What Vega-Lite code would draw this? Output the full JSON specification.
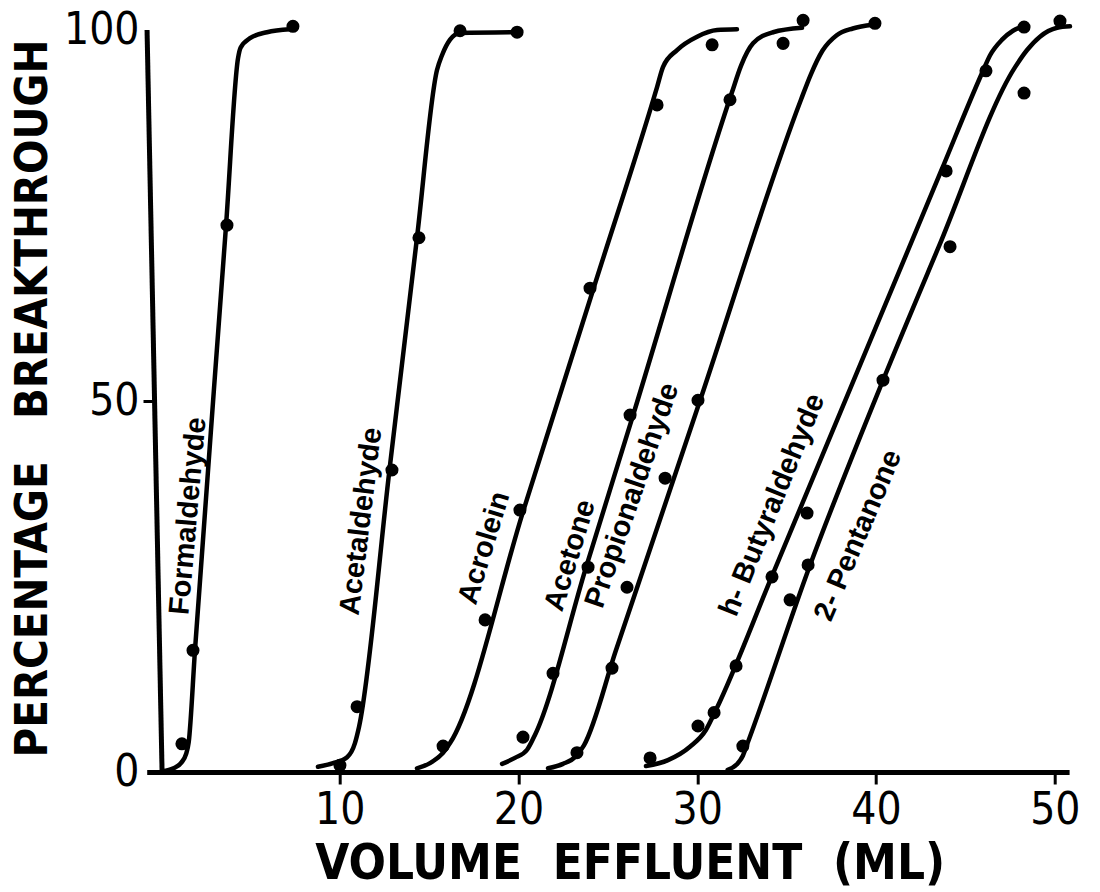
{
  "$schema": "https://vega.github.io/schema/vega-lite/v6.json",
  "width": 922.4,
  "height": 742,
  "autosize": {"type": "none"},
  "padding": {"left": 146.7, "top": 30, "right": 30.9, "bottom": 120},
  "background": "white",
  "config": {"view": {"stroke": null}, "axis": {"grid": false}},
  "datasets": {
    "curves": [
      {"compound": "Formaldehyde", "x": 0.08, "y": 0.1},
      {"compound": "Formaldehyde", "x": 0.7, "y": 0.5},
      {"compound": "Formaldehyde", "x": 1.15, "y": 1.3},
      {"compound": "Formaldehyde", "x": 1.4, "y": 2.4},
      {"compound": "Formaldehyde", "x": 1.55, "y": 4.0},
      {"compound": "Formaldehyde", "x": 1.9, "y": 16.4},
      {"compound": "Formaldehyde", "x": 3.64, "y": 73.7},
      {"compound": "Formaldehyde", "x": 4.31, "y": 96.2},
      {"compound": "Formaldehyde", "x": 4.45, "y": 97.6},
      {"compound": "Formaldehyde", "x": 4.98, "y": 98.9},
      {"compound": "Formaldehyde", "x": 5.93, "y": 99.7},
      {"compound": "Formaldehyde", "x": 7.22, "y": 100.1},

      {"compound": "Acetaldehyde", "x": 8.78, "y": 0.7},
      {"compound": "Acetaldehyde", "x": 9.62, "y": 1.2},
      {"compound": "Acetaldehyde", "x": 10.41, "y": 2.0},
      {"compound": "Acetaldehyde", "x": 10.85, "y": 3.9},
      {"compound": "Acetaldehyde", "x": 11.08, "y": 6.1},
      {"compound": "Acetaldehyde", "x": 12.78, "y": 40.7},
      {"compound": "Acetaldehyde", "x": 14.32, "y": 72.0},
      {"compound": "Acetaldehyde", "x": 15.44, "y": 94.6},
      {"compound": "Acetaldehyde", "x": 15.72, "y": 96.6},
      {"compound": "Acetaldehyde", "x": 16.17, "y": 98.7},
      {"compound": "Acetaldehyde", "x": 16.73, "y": 99.6},
      {"compound": "Acetaldehyde", "x": 19.92, "y": 99.7},

      {"compound": "Acrolein", "x": 14.32, "y": 0.5},
      {"compound": "Acrolein", "x": 15.05, "y": 1.2},
      {"compound": "Acrolein", "x": 15.78, "y": 2.6},
      {"compound": "Acrolein", "x": 16.17, "y": 3.9},
      {"compound": "Acrolein", "x": 20.28, "y": 35.3},
      {"compound": "Acrolein", "x": 24.2, "y": 65.2},
      {"compound": "Acrolein", "x": 27.75, "y": 92.3},
      {"compound": "Acrolein", "x": 28.08, "y": 95.0},
      {"compound": "Acrolein", "x": 28.87, "y": 97.3},
      {"compound": "Acrolein", "x": 29.99, "y": 99.1},
      {"compound": "Acrolein", "x": 31.11, "y": 100.0},
      {"compound": "Acrolein", "x": 32.22, "y": 100.1},

      {"compound": "Acetone", "x": 19.08, "y": 1.1},
      {"compound": "Acetone", "x": 19.8, "y": 1.9},
      {"compound": "Acetone", "x": 20.48, "y": 3.0},
      {"compound": "Acetone", "x": 20.92, "y": 5.0},
      {"compound": "Acetone", "x": 23.78, "y": 27.6},
      {"compound": "Acetone", "x": 26.41, "y": 48.1},
      {"compound": "Acetone", "x": 31.94, "y": 91.6},
      {"compound": "Acetone", "x": 32.45, "y": 95.2},
      {"compound": "Acetone", "x": 33.12, "y": 98.2},
      {"compound": "Acetone", "x": 34.24, "y": 99.7},
      {"compound": "Acetone", "x": 35.86, "y": 100.3},

      {"compound": "Propionaldehyde", "x": 21.65, "y": 0.5},
      {"compound": "Propionaldehyde", "x": 22.49, "y": 1.1},
      {"compound": "Propionaldehyde", "x": 23.16, "y": 2.0},
      {"compound": "Propionaldehyde", "x": 23.66, "y": 3.6},
      {"compound": "Propionaldehyde", "x": 25.45, "y": 16.4},
      {"compound": "Propionaldehyde", "x": 30.16, "y": 50.1},
      {"compound": "Propionaldehyde", "x": 35.8, "y": 90.6},
      {"compound": "Propionaldehyde", "x": 36.35, "y": 94.0},
      {"compound": "Propionaldehyde", "x": 37.0, "y": 97.2},
      {"compound": "Propionaldehyde", "x": 37.8, "y": 99.3},
      {"compound": "Propionaldehyde", "x": 38.7, "y": 100.2},
      {"compound": "Propionaldehyde", "x": 39.83, "y": 100.7},

      {"compound": "n-Butyraldehyde", "x": 27.13, "y": 0.8},
      {"compound": "n-Butyraldehyde", "x": 28.36, "y": 1.6},
      {"compound": "n-Butyraldehyde", "x": 29.59, "y": 3.4},
      {"compound": "n-Butyraldehyde", "x": 30.49, "y": 5.7},
      {"compound": "n-Butyraldehyde", "x": 31.05, "y": 8.4},
      {"compound": "n-Butyraldehyde", "x": 34.16, "y": 26.3},
      {"compound": "n-Butyraldehyde", "x": 43.64, "y": 81.0},
      {"compound": "n-Butyraldehyde", "x": 45.93, "y": 94.2},
      {"compound": "n-Butyraldehyde", "x": 46.38, "y": 96.6},
      {"compound": "n-Butyraldehyde", "x": 47.05, "y": 98.7},
      {"compound": "n-Butyraldehyde", "x": 47.66, "y": 99.9},
      {"compound": "n-Butyraldehyde", "x": 48.22, "y": 100.5},

      {"compound": "2-Pentanone", "x": 31.7, "y": 0.3},
      {"compound": "2-Pentanone", "x": 32.2, "y": 1.0},
      {"compound": "2-Pentanone", "x": 32.55, "y": 2.2},
      {"compound": "2-Pentanone", "x": 32.8, "y": 3.8},
      {"compound": "2-Pentanone", "x": 36.25, "y": 27.5},
      {"compound": "2-Pentanone", "x": 40.39, "y": 52.8},
      {"compound": "2-Pentanone", "x": 43.51, "y": 70.8},
      {"compound": "2-Pentanone", "x": 47.78, "y": 95.0},
      {"compound": "2-Pentanone", "x": 48.45, "y": 97.3},
      {"compound": "2-Pentanone", "x": 49.17, "y": 99.1},
      {"compound": "2-Pentanone", "x": 50.13, "y": 100.3},
      {"compound": "2-Pentanone", "x": 50.85, "y": 100.5}
    ],
    "points": [
      {"compound": "Formaldehyde", "x": 1.17, "y": 3.8},
      {"compound": "Formaldehyde", "x": 1.79, "y": 16.4},
      {"compound": "Formaldehyde", "x": 3.69, "y": 73.7},
      {"compound": "Formaldehyde", "x": 7.38, "y": 100.5},
      {"compound": "Acetaldehyde", "x": 10.01, "y": 0.9},
      {"compound": "Acetaldehyde", "x": 10.97, "y": 8.8},
      {"compound": "Acetaldehyde", "x": 12.92, "y": 40.7},
      {"compound": "Acetaldehyde", "x": 14.43, "y": 72.0},
      {"compound": "Acetaldehyde", "x": 16.73, "y": 99.9},
      {"compound": "Acetaldehyde", "x": 19.92, "y": 99.7},
      {"compound": "Acrolein", "x": 15.78, "y": 3.5},
      {"compound": "Acrolein", "x": 18.13, "y": 20.5},
      {"compound": "Acrolein", "x": 20.08, "y": 35.3},
      {"compound": "Acrolein", "x": 24.0, "y": 65.2},
      {"compound": "Acrolein", "x": 27.75, "y": 89.9},
      {"compound": "Acrolein", "x": 30.83, "y": 98.0},
      {"compound": "Acetone", "x": 20.25, "y": 4.7},
      {"compound": "Acetone", "x": 21.93, "y": 13.3},
      {"compound": "Acetone", "x": 23.89, "y": 27.6},
      {"compound": "Acetone", "x": 26.24, "y": 48.1},
      {"compound": "Acetone", "x": 31.83, "y": 90.6},
      {"compound": "Acetone", "x": 34.8, "y": 98.2},
      {"compound": "Acetone", "x": 35.92, "y": 101.3},
      {"compound": "Propionaldehyde", "x": 23.27, "y": 2.6},
      {"compound": "Propionaldehyde", "x": 25.23, "y": 14.0},
      {"compound": "Propionaldehyde", "x": 26.07, "y": 24.9},
      {"compound": "Propionaldehyde", "x": 28.2, "y": 39.6},
      {"compound": "Propionaldehyde", "x": 30.04, "y": 50.1},
      {"compound": "Propionaldehyde", "x": 39.94, "y": 100.9},
      {"compound": "n-Butyraldehyde", "x": 27.36, "y": 1.9},
      {"compound": "n-Butyraldehyde", "x": 30.04, "y": 6.2},
      {"compound": "n-Butyraldehyde", "x": 30.94, "y": 8.0},
      {"compound": "n-Butyraldehyde", "x": 32.17, "y": 14.3},
      {"compound": "n-Butyraldehyde", "x": 34.18, "y": 26.3},
      {"compound": "n-Butyraldehyde", "x": 36.14, "y": 34.9},
      {"compound": "n-Butyraldehyde", "x": 43.92, "y": 81.0},
      {"compound": "n-Butyraldehyde", "x": 46.15, "y": 94.5},
      {"compound": "n-Butyraldehyde", "x": 48.28, "y": 100.4},
      {"compound": "2-Pentanone", "x": 32.55, "y": 3.5},
      {"compound": "2-Pentanone", "x": 35.19, "y": 23.2},
      {"compound": "2-Pentanone", "x": 36.2, "y": 27.9},
      {"compound": "2-Pentanone", "x": 40.39, "y": 52.8},
      {"compound": "2-Pentanone", "x": 44.14, "y": 70.8},
      {"compound": "2-Pentanone", "x": 48.28, "y": 91.5},
      {"compound": "2-Pentanone", "x": 50.29, "y": 101.2}
    ]
  },
  "encoding": {
    "x": {
      "field": "x",
      "type": "quantitative",
      "scale": {"domain": [-0.8, 50.8], "nice": false, "zero": false},
      "axis": {
        "title": "VOLUME\u00a0\u00a0EFFLUENT\u00a0\u00a0(ML)",
        "values": [10, 20, 30, 40, 50],
        "domainColor": "black",
        "domainWidth": 5,
        "tickColor": "black",
        "tickWidth": 3,
        "tickSize": 12,
        "labelPadding": 4,
        "labelFlush": false,
        "labelBound": false,
        "labelOverlap": false,
        "labelFont": "Liberation Sans Narrow, DejaVu Sans Condensed, Liberation Sans, sans-serif",
        "labelFontSize": 44,
        "labelColor": "black",
        "titleFont": "Liberation Sans Narrow, DejaVu Sans Condensed, Liberation Sans, sans-serif",
        "titleFontSize": 49,
        "titleFontWeight": "bold",
        "titleColor": "black",
        "titleX": 483,
        "titleY": 106,
        "titleAlign": "center",
        "titleBaseline": "alphabetic"
      }
    },
    "y": {
      "field": "y",
      "type": "quantitative",
      "scale": {"domain": [0, 100], "nice": false, "zero": false},
      "axis": {
        "title": "PERCENTAGE\u00a0\u00a0\u00a0BREAKTHROUGH",
        "values": [0, 50, 100],
        "domain": false,
        "offset": -6.3,
        "tickColor": "black",
        "tickWidth": 3,
        "tickSize": 10,
        "tickOpacity": {"condition": {"test": "datum.value === 50", "value": 1}, "value": 0},
        "labelPadding": 4,
        "labelOverlap": false,
        "labelBound": false,
        "labelFlush": false,
        "labelFont": "Liberation Sans Narrow, DejaVu Sans Condensed, Liberation Sans, sans-serif",
        "labelFontSize": 44,
        "labelColor": "black",
        "titleFont": "Liberation Sans Narrow, DejaVu Sans Condensed, Liberation Sans, sans-serif",
        "titleFontSize": 45,
        "titleFontWeight": "bold",
        "titleColor": "black",
        "titleAngle": -90,
        "titleX": -107,
        "titleY": 368,
        "titleAlign": "center",
        "titleBaseline": "alphabetic"
      }
    }
  },
  "layer": [
    {
      "data": {"values": [{"x": -0.78, "y": 100, "x2": 0.06, "y2": 0}]},
      "mark": {"type": "rule", "color": "black", "strokeWidth": 5},
      "encoding": {"x2": {"field": "x2"}, "y2": {"field": "y2"}}
    },
    {
      "data": {"name": "curves"},
      "mark": {"type": "line", "interpolate": "monotone", "color": "black", "strokeWidth": 4.5, "strokeCap": "round"},
      "encoding": {"detail": {"field": "compound"}}
    },
    {
      "data": {"name": "points"},
      "mark": {"type": "circle", "color": "black", "opacity": 1, "size": 170}
    },
    {
      "data": {"values": [{"name": "Formaldehyde", "x": 1.51, "y": 34.5}]},
      "mark": {"type": "text", "angle": -85, "font": "Liberation Sans", "fontWeight": "bold", "fontSize": 29, "align": "center", "baseline": "middle", "color": "black"},
      "encoding": {"text": {"field": "name"}}
    },
    {
      "data": {"values": [{"name": "Acetaldehyde", "x": 11.19, "y": 33.8}]},
      "mark": {"type": "text", "angle": -83, "font": "Liberation Sans", "fontWeight": "bold", "fontSize": 29, "align": "center", "baseline": "middle", "color": "black"},
      "encoding": {"text": {"field": "name"}}
    },
    {
      "data": {"values": [{"name": "Acrolein", "x": 18.07, "y": 30.2}]},
      "mark": {"type": "text", "angle": -73, "font": "Liberation Sans", "fontWeight": "bold", "fontSize": 29, "align": "center", "baseline": "middle", "color": "black"},
      "encoding": {"text": {"field": "name"}}
    },
    {
      "data": {"values": [{"name": "Acetone", "x": 22.88, "y": 29.2}]},
      "mark": {"type": "text", "angle": -73, "font": "Liberation Sans", "fontWeight": "bold", "fontSize": 29, "align": "center", "baseline": "middle", "color": "black"},
      "encoding": {"text": {"field": "name"}}
    },
    {
      "data": {"values": [{"name": "Propionaldehyde", "x": 26.35, "y": 37.3}]},
      "mark": {"type": "text", "angle": -71, "font": "Liberation Sans", "fontWeight": "bold", "fontSize": 29, "align": "center", "baseline": "middle", "color": "black"},
      "encoding": {"text": {"field": "name"}}
    },
    {
      "data": {"values": [{"name": "h- Butyraldehyde", "x": 34.18, "y": 36.0}]},
      "mark": {"type": "text", "angle": -68, "font": "Liberation Sans", "fontWeight": "bold", "fontSize": 29, "align": "center", "baseline": "middle", "color": "black"},
      "encoding": {"text": {"field": "name"}}
    },
    {
      "data": {"values": [{"name": "2- Pentanone", "x": 38.99, "y": 31.9}]},
      "mark": {"type": "text", "angle": -67, "font": "Liberation Sans", "fontWeight": "bold", "fontSize": 29, "align": "center", "baseline": "middle", "color": "black"},
      "encoding": {"text": {"field": "name"}}
    }
  ]
}
